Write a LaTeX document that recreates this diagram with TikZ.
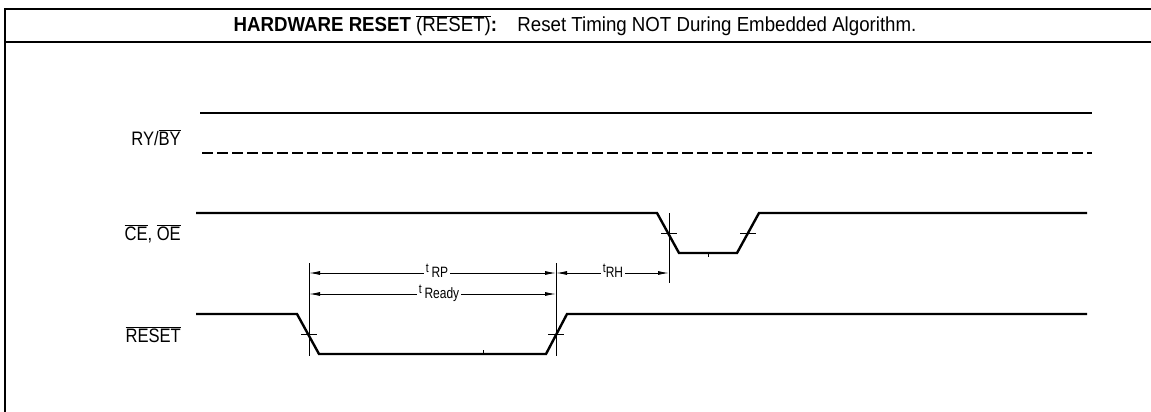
\documentclass[tikz,border=0pt]{standalone}
\usepackage{fontspec}
\setmainfont[FakeStretch=0.92]{Liberation Sans}
\newfontfamily\lblfont[FakeStretch=0.85]{Liberation Sans}
\newfontfamily\tfont[FakeStretch=0.8]{Liberation Sans}
\usetikzlibrary{arrows.meta}
\newcommand\myovl[1]{$\overline{\mbox{#1}}$}
\tikzset{
  sig/.style={line width=2.4pt, line join=miter},
  framel/.style={line width=2.6pt},
  refl/.style={line width=0.9pt},
  dimline/.style={line width=0.9pt, {Latex[length=11pt,width=4pt]}-{Latex[length=11pt,width=4pt]}},
  lbl/.style={font=\lblfont\fontsize{19.5}{22}\selectfont, anchor=base east, inner sep=0pt},
  tlbl/.style={fill=white, inner sep=2pt, anchor=base, font=\tfont\fontsize{13}{15}\selectfont},
}
\newcommand\tsubs[1]{{\fontsize{15}{17}\selectfont\raisebox{-5pt}{#1}}}
\begin{document}
\begin{tikzpicture}[x=1pt,y=-1pt]
\useasboundingbox (0,0) rectangle (1151,412);
% frame
\draw[framel] (5,412) -- (5,9) -- (1151,9);
\draw[framel] (5,42) -- (1151,42);
\node[font=\fontsize{20.3}{23}\selectfont, anchor=base] (title) at (575,32)
  {\textbf{HARDWARE RESET} \myovl{(RESET)}\textbf{:}\quad Reset Timing NOT During Embedded Algorithm.};
% labels
\node[lbl] (lry) at (181,145) {RY/\myovl{BY}};
\node[lbl] (lce) at (181,240) {\myovl{CE}, \myovl{OE}};
\node[lbl] (lrs) at (181,342) {\myovl{RESET}};
% RY/BY
\coordinate (ry0) at (200,113);
\coordinate (ry1) at (1092,113);
\coordinate (by0) at (202,153);
\coordinate (by1) at (1092,153);
\draw[sig] (ry0) -- (ry1);
\draw[line width=1.4pt, dash pattern=on 10.5pt off 4.5pt] (by0) -- (by1);
% CE, OE
\draw[sig] (196,213) -- (657,213) -- (679,253) -- (737,253) -- (759,213) -- (1087,213);
% RESET
\draw[sig] (196,314) -- (297,314) -- (319,354) -- (546,354) -- (567,314) -- (1087,314);
% reference verticals
\coordinate (va0) at (309,263); \coordinate (va1) at (309,356);
\coordinate (vb0) at (556,263); \coordinate (vb1) at (556,356);
\coordinate (vc0) at (669,213); \coordinate (vc1) at (669,283);
\draw[refl] (va0) -- (va1);
\draw[refl] (vb0) -- (vb1);
\draw[refl] (vc0) -- (vc1);
% crossing ticks
\draw[refl] (301,334) -- (317,334);
\draw[refl] (548,334) -- (564,334);
\draw[refl] (661,233) -- (677,233);
\draw[refl] (740,233) -- (756,233);
\draw[refl] (483,350) -- (483,354);
\draw[refl] (708,253) -- (708,257);
% dimension arrows
\coordinate (rpa) at (309,273); \coordinate (rpb) at (556,273);
\coordinate (rda) at (309,294); \coordinate (rdb) at (556,294);
\coordinate (rha) at (556,273); \coordinate (rhb) at (669,273);
\draw[dimline] (rpa) -- (rpb);
\draw[dimline] (rda) -- (rdb);
\draw[dimline] (rha) -- (rhb);
\node[tlbl] (trp) at (437,272) {t \tsubs{RP}};
\node[tlbl] (trd) at (439,293) {t \tsubs{Ready}};
\node[tlbl] (trh) at (613,272) {t\tsubs{RH}};
\end{tikzpicture}
\end{document}
